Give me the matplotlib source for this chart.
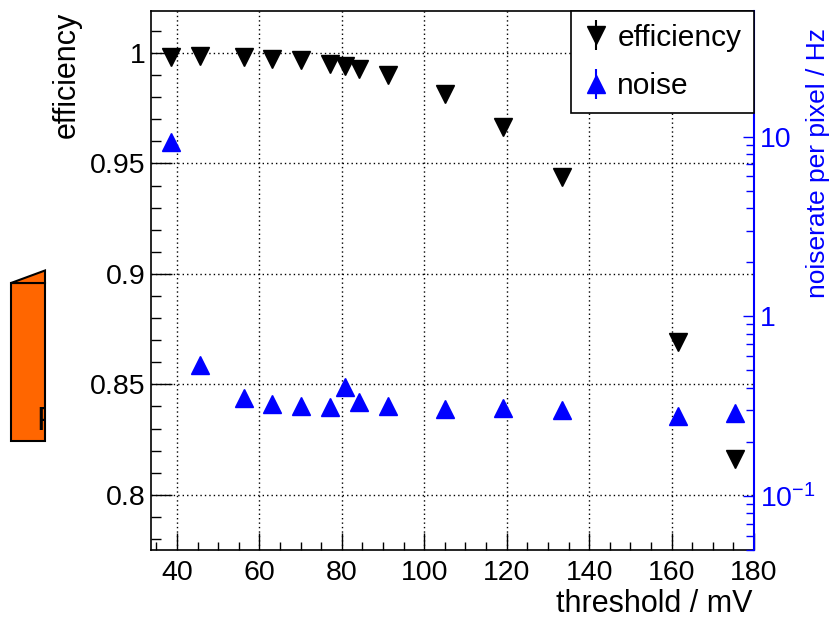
import matplotlib
matplotlib.use("Agg")
import matplotlib.pyplot as plt
from matplotlib.patches import Polygon
from matplotlib.ticker import MultipleLocator, FuncFormatter, LogLocator, NullFormatter
from matplotlib.transforms import Bbox, TransformedBbox

plt.rcParams['font.family'] = ['Liberation Sans', 'DejaVu Sans']
plt.rcParams['mathtext.fontset'] = 'custom'
plt.rcParams['mathtext.rm'] = 'Liberation Sans'

# threshold scan values
threshold = [38.5, 45.6, 56.2, 63.1, 70.1, 77.2, 80.7, 84.1, 91.2, 105.1, 119.1, 133.3, 161.5, 175.3]
efficiency = [0.9982, 0.9988, 0.9982, 0.9973, 0.9966, 0.9950, 0.9940, 0.9928, 0.9900,
              0.9816, 0.9665, 0.9439, 0.8692, 0.8161]
noise = [9.38, 0.535, 0.349, 0.323, 0.316, 0.312, 0.404, 0.333, 0.316,
         0.303, 0.307, 0.299, 0.278, 0.289]

W, H = 834, 618
fig = plt.figure(figsize=(W / 100, H / 100), dpi=100)
fig.patch.set_facecolor('white')

# orange box peeking out on the left (slide background)
front = Polygon([(11 / W, 1 - 283 / H), (45 / W, 1 - 283 / H), (45 / W, 1 - 441 / H), (11 / W, 1 - 441 / H)],
                closed=True, transform=fig.transFigure, facecolor='#ff6600', edgecolor='black', lw=1.5)
top = Polygon([(11 / W, 1 - 283 / H), (45 / W, 1 - 270.5 / H), (45 / W, 1 - 283 / H)],
              closed=True, transform=fig.transFigure, facecolor='#ff6600', edgecolor='black', lw=1.5)
fig.patches.extend([front, top])
t = fig.text(36 / W, 1 - 421 / H, 'P', fontsize=24, color='black', ha='left', va='center')
t.set_clip_box(TransformedBbox(Bbox([[0, 0], [45 / W, 1]]), fig.transFigure))
t.set_clip_on(True)

ax = fig.add_axes([151 / W, 1 - 550 / H, 603 / W, 539 / H])
ax2 = ax.twinx()

ax.set_xlim(33.7, 180)
ax.set_ylim(0.775, 1.019)
ax2.set_yscale('log')
ax2.set_ylim(0.05, 50)

h1 = ax.errorbar(threshold, efficiency, yerr=[0] * len(efficiency), fmt='v', color='black',
                 ms=12.5, elinewidth=1.5, capsize=0, label='efficiency', zorder=3)
h2 = ax2.errorbar(threshold, noise, yerr=[0] * len(noise), fmt='^', color='blue',
                  ms=12.5, elinewidth=1.5, capsize=0, label='noise', zorder=3)

ax.grid(True, which='major', linestyle=(0, (1, 2.2)), color='black', lw=1)

ax.xaxis.set_major_locator(MultipleLocator(20))
ax.xaxis.set_minor_locator(MultipleLocator(5))
ax.yaxis.set_major_locator(MultipleLocator(0.05))
ax.yaxis.set_minor_locator(MultipleLocator(0.01))
ax.yaxis.set_major_formatter(FuncFormatter(lambda v, p: '%g' % round(v, 3)))

ax.tick_params(axis='x', which='major', direction='in', length=12, width=1, labelsize=20.5, pad=7)
ax.tick_params(axis='x', which='minor', direction='in', length=6, width=1)
ax.tick_params(axis='y', which='major', direction='in', length=15, width=1, labelsize=20.5, pad=4)
ax.tick_params(axis='y', which='minor', direction='in', length=7, width=1)
ax.tick_params(top=False, right=False, which='both')

def log_fmt(v, p):
    if abs(v - 10) < 1e-6:
        return '10'
    if abs(v - 1) < 1e-6:
        return '1'
    if abs(v - 0.1) < 1e-8:
        return r'$\mathregular{10^{-1}}$'
    return ''

ax2.yaxis.set_major_locator(LogLocator(base=10, numticks=10))
ax2.yaxis.set_minor_locator(LogLocator(base=10, subs=range(2, 10), numticks=10))
ax2.yaxis.set_major_formatter(FuncFormatter(log_fmt))
ax2.yaxis.set_minor_formatter(NullFormatter())
ax2.tick_params(axis='y', which='major', direction='in', length=8, width=1, colors='blue',
                labelsize=20.5, pad=4)
ax2.tick_params(axis='y', which='minor', direction='in', length=5.5, width=1, colors='blue')

for s in ['left', 'bottom', 'top']:
    ax.spines[s].set_linewidth(1.2)
ax.spines['right'].set_visible(False)
for s in ['left', 'bottom', 'top']:
    ax2.spines[s].set_visible(False)
ax2.spines['right'].set_color('blue')
ax2.spines['right'].set_linewidth(1.5)

ax.set_xlabel('threshold / mV', fontsize=22, loc='right')
ax.xaxis.set_label_coords(0.9967, -0.100)
ax.xaxis.label.set_va('center')
ax.set_ylabel('efficiency', fontsize=22, loc='top')
ax.yaxis.set_label_coords(-0.139, 0.998)
ax.yaxis.label.set_va('center')
ax2.set_ylabel('noiserate per pixel / Hz', fontsize=19, color='blue', loc='top')
ax2.yaxis.set_label_coords(1.106, 0.968)
ax2.yaxis.label.set_va('center')

leg = ax2.legend([h1, h2], ['efficiency', 'noise'], loc='upper right', bbox_to_anchor=(1, 1),
                 borderaxespad=0, fontsize=21.5, frameon=True, fancybox=False,
                 edgecolor='black', framealpha=1, handlelength=0.87, handletextpad=0.27,
                 borderpad=0.42, labelspacing=0.7)
leg.get_frame().set_linewidth(1.2)

fig.savefig('out.png', dpi=100)
